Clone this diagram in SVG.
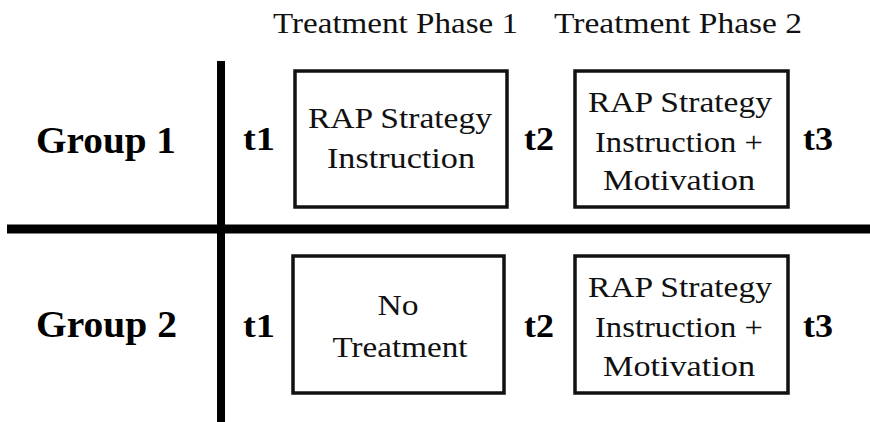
<svg xmlns="http://www.w3.org/2000/svg" width="870" height="422" viewBox="0 0 870 422">
<style>
  .h { font-size: 30px; fill: #111; }
  .b { font-size: 30px; fill: #111; text-anchor: middle; }
  .lbl { font-weight: bold; fill: #000; }
  .box { fill: #fff; stroke: #111; stroke-width: 3.5; }
  .axis { stroke: #000; fill: none; }
</style>
<rect width="870" height="422" fill="#fff"/>
<g id="connectors">
  <line class="axis" x1="7" y1="229" x2="870" y2="229" stroke-width="9"/>
  <line class="axis" x1="221" y1="61" x2="221" y2="422" stroke-width="8"/>
</g>
<g font-family="Liberation Serif">
<g id="header">
  <text class="h" x="273" y="33" textLength="245" lengthAdjust="spacingAndGlyphs">Treatment Phase 1</text>
  <text class="h" x="554" y="33" textLength="248" lengthAdjust="spacingAndGlyphs">Treatment Phase 2</text>
</g>
<g id="group1">
  <text class="lbl" x="36" y="153" font-size="38" textLength="140" lengthAdjust="spacingAndGlyphs">Group 1</text>
  <text class="lbl" x="243" y="150" font-size="34" textLength="32" lengthAdjust="spacingAndGlyphs">t1</text>
  <text class="lbl" x="524" y="150" font-size="34" textLength="30" lengthAdjust="spacingAndGlyphs">t2</text>
  <text class="lbl" x="803" y="150" font-size="34" textLength="30" lengthAdjust="spacingAndGlyphs">t3</text>
</g>
<g id="box1">
  <rect class="box" x="295" y="71" width="212" height="136"/>
  <text class="b" x="400" y="128" textLength="184" lengthAdjust="spacingAndGlyphs">RAP Strategy</text>
  <text class="b" x="401" y="168" textLength="148" lengthAdjust="spacingAndGlyphs">Instruction</text>
</g>
<g id="box2">
  <rect class="box" x="575" y="71" width="213" height="136"/>
  <text class="b" x="680" y="112" textLength="184" lengthAdjust="spacingAndGlyphs">RAP Strategy</text>
  <text class="b" x="679" y="152" textLength="168" lengthAdjust="spacingAndGlyphs">Instruction +</text>
  <text class="b" x="679" y="190" textLength="152" lengthAdjust="spacingAndGlyphs">Motivation</text>
</g>
<g id="group2">
  <text class="lbl" x="36" y="337" font-size="38" textLength="141" lengthAdjust="spacingAndGlyphs">Group 2</text>
  <text class="lbl" x="243" y="337" font-size="34" textLength="32" lengthAdjust="spacingAndGlyphs">t1</text>
  <text class="lbl" x="524" y="337" font-size="34" textLength="30" lengthAdjust="spacingAndGlyphs">t2</text>
  <text class="lbl" x="803" y="337" font-size="34" textLength="30" lengthAdjust="spacingAndGlyphs">t3</text>
</g>
<g id="box3">
  <rect class="box" x="293" y="256" width="211" height="137"/>
  <text class="b" x="398" y="315" textLength="41" lengthAdjust="spacingAndGlyphs">No</text>
  <text class="b" x="400" y="357" textLength="135" lengthAdjust="spacingAndGlyphs">Treatment</text>
</g>
<g id="box4">
  <rect class="box" x="575" y="256" width="213" height="137"/>
  <text class="b" x="680" y="297" textLength="184" lengthAdjust="spacingAndGlyphs">RAP Strategy</text>
  <text class="b" x="679" y="337" textLength="168" lengthAdjust="spacingAndGlyphs">Instruction +</text>
  <text class="b" x="679" y="376" textLength="152" lengthAdjust="spacingAndGlyphs">Motivation</text>
</g>
</g>
</svg>
